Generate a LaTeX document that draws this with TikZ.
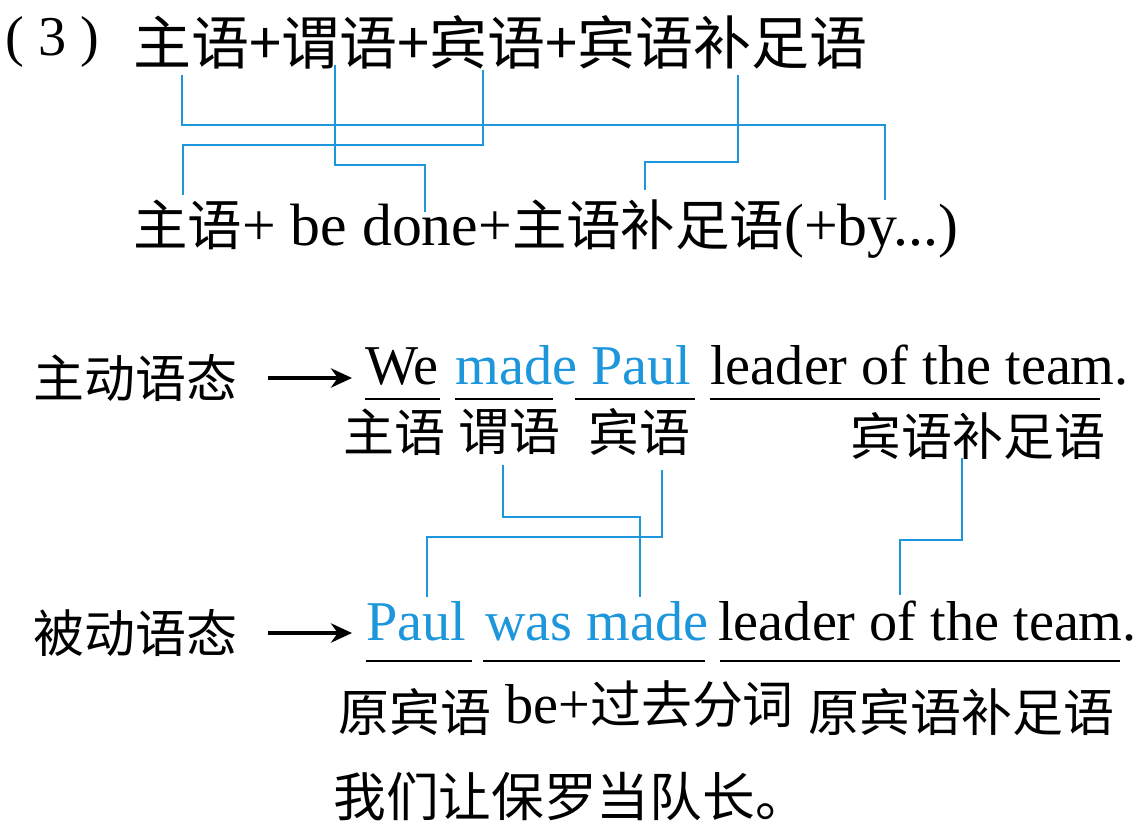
\documentclass[tikz,border=0pt]{standalone}
\usepackage{fontspec}
\setmainfont{Liberation Serif}
\newfontfamily\cjk{Noto Sans CJK SC}
\usetikzlibrary{arrows.meta}
\definecolor{bl}{RGB}{30,150,220}
\newcommand{\zhf}{\cjk\fontsize{29}{33}\selectfont}
\newcommand{\zhg}{\cjk\fontsize{31}{35}\selectfont}
\begin{document}
\begin{tikzpicture}[x=0.02cm,y=-0.02cm,
  zh/.style={inner sep=0,anchor=west,font=\zhf},
  en/.style={inner sep=0,anchor=base west,font=\fontsize{32}{36}\selectfont},
  link/.style={draw=bl,line width=1.6pt},
  ul/.style={line width=1.2pt},
  arr/.style={-{Stealth[length=12pt,width=11pt]},line width=2pt}]
\useasboundingbox (0,0) rectangle (1146,834);
% top
\node[en] (t0) at (5,56) {( 3 )};
\node[zh,font=\cjk\fontsize{33}{37}\selectfont] (t1) at (133,42) {主语+谓语+宾语+宾语补足语};
\node[en,font=\fontsize{34}{38}\selectfont] (t2) at (133,246) {{\zhg 主语}+ be done+{\zhg 主语补足语}(+by...)};
\draw[link] (182,75) -- (182,125) -- (885,125) -- (885,200);
\draw[link] (335,65) -- (335,165) -- (425,165) -- (425,212);
\draw[link] (483,70) -- (483,145) -- (183,145) -- (183,195);
\draw[link] (738,75) -- (738,162) -- (645,162) -- (645,190);
% active
\node[zh] (a0) at (33,378) {主动语态};
\coordinate (a1) at (268,378); \coordinate (a2) at (352,378);
\draw[arr] (a1) -- (a2);
\node[en] (w1) at (365,385) {We};
\node[en,text=bl] (w2) at (455,385) {made Paul};
\node[en] (w3) at (710,385) {leader of the team.};
\draw[ul] (365,399) -- (440,399) (455,399) -- (553,399) (575,399) -- (695,399) (710,399) -- (1100,399);
\node[zh] (l1) at (343,432) {主语};
\node[zh] (l2) at (458,432) {谓语};
\node[zh] (l3) at (588,432) {宾语};
\node[zh] (l4) at (850,436) {宾语补足语};
\draw[link] (503,465) -- (503,517) -- (640,517) -- (640,597);
\draw[link] (662,470) -- (662,537) -- (427,537) -- (427,597);
\draw[link] (962,458) -- (962,540) -- (900,540) -- (900,595);
% passive
\node[zh] (p0) at (33,633) {被动语态};
\coordinate (p1) at (268,633); \coordinate (p2) at (352,633);
\draw[arr] (p1) -- (p2);
\node[en,text=bl] (v1) at (366,640) {Paul};
\node[en,text=bl] (v2) at (485,640) {was made};
\node[en] (v3) at (718,640) {leader of the team.};
\draw[ul] (366,661) -- (472,661) (483,661) -- (705,661) (720,661) -- (1120,661);
\node[zh] (m1) at (338,712) {原宾语};
\node[en] (m2) at (505,723) {be+{\zhf 过去分词}};
\node[zh] (m3) at (808,712) {原宾语补足语};
\node[zh,font=\cjk\fontsize{30}{34}\selectfont] (bt) at (333,797) {我们让保罗当队长。};
\end{tikzpicture}
\end{document}
